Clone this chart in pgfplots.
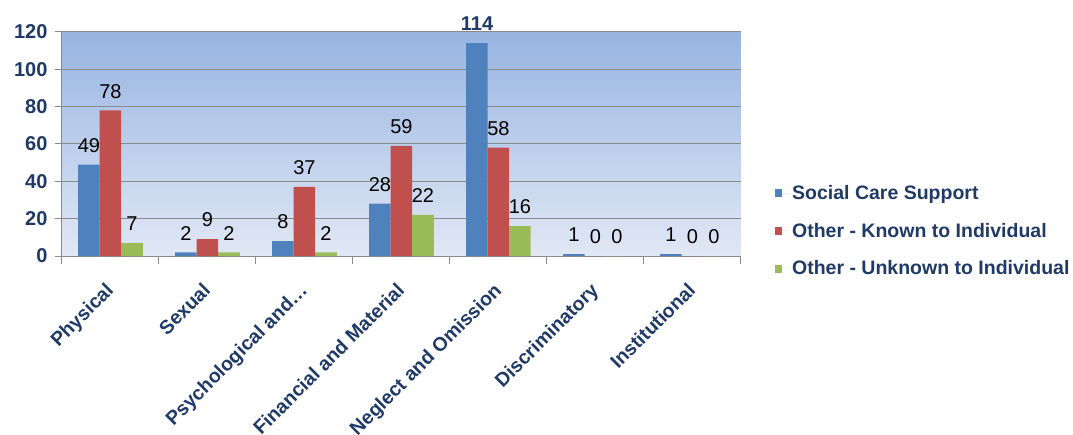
\documentclass[border=0pt]{standalone}
\usepackage{fontspec}
\setmainfont{Liberation Sans}
\usepackage{pgfplots}
\pgfplotsset{compat=1.18}
\definecolor{cblue}{HTML}{4F81BD}
\definecolor{cred}{HTML}{C0504D}
\definecolor{cgreen}{HTML}{9BBB59}
\definecolor{txtblue}{HTML}{1F3A66}
\definecolor{bgtop}{HTML}{98B4E2}
\definecolor{bgbot}{HTML}{E1E8F5}
\definecolor{gridc}{HTML}{8A8A8A}
\begin{document}
\begin{tikzpicture}[x=1pt,y=1pt]
\path[use as bounding box] (0,0) rectangle (1073,434);
\begin{axis}[
  at={(62pt,178pt)}, anchor=south west,
  scale only axis, width=679pt, height=224pt,
  xmin=-0.5, xmax=6.5, ymin=0, ymax=120,
  ytick={0,20,...,120},
  xtick={0,...,6},
  xticklabels={Physical,Sexual,Psychological and…,Financial and Material,Neglect and Omission,Discriminatory,Institutional},
  minor xtick={-0.5,0.5,...,6.5},
  axis x line*=bottom, axis y line*=left,
  axis line style={-, draw=gridc, line width=1pt},
  tick align=outside,
  major x tick style={draw=none},
  minor tick length=8pt, major tick length=7pt,
  every tick/.style={draw=gridc, line width=1pt},
  minor x tick style={draw=gridc, line width=1pt},
  ymajorgrids, grid style={draw=gridc, line width=1pt},
  axis background/.style={top color=bgtop, bottom color=bgbot},
  x tick label style={xshift=-6pt, yshift=-17pt, rotate=45, anchor=north east, font=\bfseries\fontsize{19.5}{19.5}\selectfont, text=txtblue, inner sep=1pt},
  y tick label style={font=\bfseries\fontsize{20}{20}\selectfont, text=txtblue, xshift=-4pt},
  /pgf/number format/assume math mode=true,
  ybar=0pt, bar width=21.5pt,
  visualization depends on={rawy\as\rawy},
  nodes near coords={\ifdim\rawy pt>100pt\bfseries\color{txtblue}\fi\pgfmathprintnumber{\rawy}},
  every node near coord/.append style={font=\fontsize{20}{20}\selectfont, text=black, inner sep=0pt, yshift=12pt},
  legend style={at={(1.050,0.112)}, anchor=west, draw=none, fill=none,
    font=\bfseries\fontsize{19.5}{19.5}\selectfont, text=txtblue, row sep=18pt,
    inner sep=0pt, cells={anchor=west}},
  legend image code/.code={\path (0pt,0pt) -- (15pt,0pt);\fill[#1] (0pt,-4pt) rectangle (7pt,4pt);},
  clip=false,
]
\addplot[fill=cblue, draw=none] coordinates {(0,49) (1,2) (2,8) (3,28) (4,114) (5,1) (6,1)};
\addplot[fill=cred, draw=none] coordinates {(0,78) (1,9) (2,37) (3,59) (4,58) (5,0) (6,0)};
\addplot[fill=cgreen, draw=none] coordinates {(0,7) (1,2) (2,2) (3,22) (4,16) (5,0) (6,0)};
\legend{Social Care Support,Other - Known to Individual,Other - Unknown to Individual}
\end{axis}
\end{tikzpicture}
\end{document}
